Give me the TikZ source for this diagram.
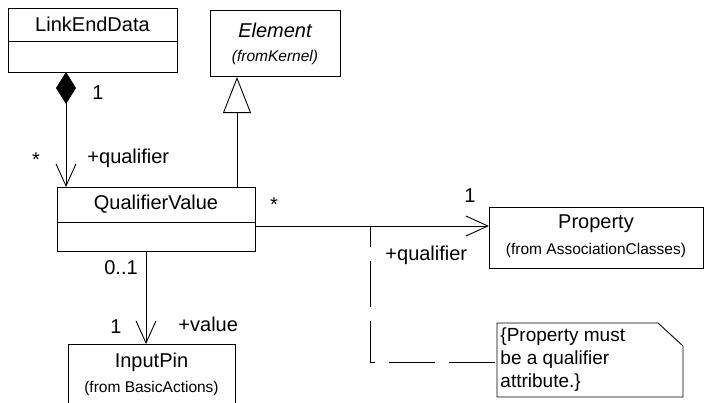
\documentclass[tikz,border=0pt]{standalone}
\usepackage{fontspec}
\setmainfont{Liberation Sans}
\usetikzlibrary{arrows.meta}
\begin{document}
\begin{tikzpicture}[x=1pt,y=-1pt,line width=0.9pt,
  cls/.style={draw,rectangle,inner sep=0pt,anchor=north west},
  big/.style={font=\fontsize{20}{22}\selectfont},
  small/.style={font=\fontsize{15.5}{17}\selectfont},
  lbl/.style={inner sep=0pt,font=\fontsize{20}{22}\selectfont},
  openv/.style={-{Straight Barb[length=22pt,width=20pt,line width=0.9pt]}}
]
\useasboundingbox (0,0) rectangle (704,402);
% LinkEndData
\node[cls,minimum width=169pt,minimum height=64pt] (led) at (8,8) {};
\draw (8,41) -- (177,41);
\node[big,inner sep=0pt] (ledt) at (92.5,24) {LinkEndData};
% Element
\node[cls,minimum width=130pt,minimum height=66pt] (el) at (210,10) {};
\node[big,inner sep=0pt] (elt) at (275,30) {\itshape Element};
\node[small,inner sep=0pt] (els) at (275,57) {\itshape (fromKernel)};
% QualifierValue
\node[cls,minimum width=198pt,minimum height=64pt] (qv) at (57,187) {};
\draw (57,222) -- (255,222);
\node[big,inner sep=0pt] (qvt) at (156,204) {QualifierValue};
% Property
\node[cls,minimum width=214pt,minimum height=61pt] (pr) at (489,207) {};
\node[big,inner sep=0pt] (prt) at (596,224) {Property};
\node[small,inner sep=0pt] (prs) at (596,250) {(from AssociationClasses)};
% InputPin
\node[cls,minimum width=167pt,minimum height=70pt] (ip) at (68,344) {};
\node[big,inner sep=0pt] (ipt) at (151.5,362) {InputPin};
\node[small,inner sep=0pt] (ips) at (151.5,388) {(from BasicActions)};
% Note
\draw (497,323) -- (658,323) -- (683,346) -- (683,397) -- (497,397) -- cycle;
\node[inner sep=0pt,anchor=north west,align=left,font=\fontsize{19}{23}\selectfont] (nt) at (500,327) {\{Property must\\be a qualifier\\attribute.\}};
\coordinate (nl) at (497,362);
% composition
\coordinate (a1) at (66,72);
\coordinate (a2) at (66,187);
\draw[{Diamond[length=32pt,width=20pt,fill=black]}-{Straight Barb[length=22pt,width=20pt,line width=0.9pt]}] (a1) -- (a2);
\node[lbl] (m1) at (98,93) {1};
\node[lbl] (m2) at (36,160) {*};
\node[lbl,anchor=west] (r1) at (87,158) {+qualifier};
% generalization
\coordinate (g1) at (237,187);
\coordinate (g2) at (237,77);
\draw[-{Triangle[open,length=36pt,width=28pt,line width=0.9pt]}] (g1) -- (g2);
% QV -> Property
\coordinate (p1) at (255,226);
\coordinate (p2) at (489,226);
\draw[openv] (p1) -- (p2);
\node[lbl] (m3) at (274,205) {*};
\node[lbl] (m4) at (470,196) {1};
\node[lbl,anchor=west] (r2) at (385,255) {+qualifier};
% QV -> InputPin
\coordinate (v1) at (146,251);
\coordinate (v2) at (146,344);
\draw[openv] (v1) -- (v2);
\node[lbl] (m5) at (121,268) {0..1};
\node[lbl] (m6) at (116,327) {1};
\node[lbl,anchor=west] (r3) at (178,324) {+value};
% dashed anchor line
\coordinate (d1) at (370,227);
\coordinate (d2) at (370,362);
\draw[dash pattern=on 46pt off 14pt,dash phase=26pt] (d1) -- (d2) -- (nl);
\end{tikzpicture}
\end{document}
